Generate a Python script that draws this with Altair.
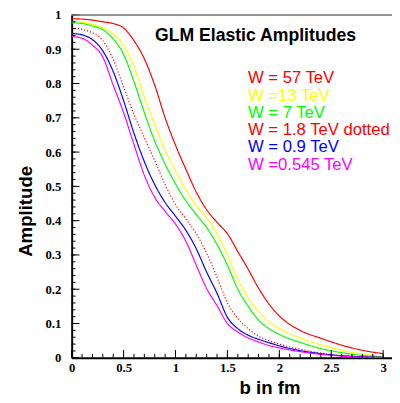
import altair as alt
import pandas as pd

# impact parameter b (fm)
b_vals = [0.0, 0.1, 0.2, 0.3, 0.4, 0.5, 0.6, 0.7, 0.8, 0.9, 1.0, 1.1, 1.2, 1.3, 1.4,
          1.5, 1.6, 1.7, 1.8, 1.9, 2.0, 2.2, 2.4, 2.6, 2.8, 3.0]

amp_57 = [0.989, 0.988, 0.985, 0.980, 0.975, 0.962, 0.925, 0.872, 0.795, 0.700, 0.620,
          0.550, 0.483, 0.432, 0.395, 0.362, 0.310, 0.258, 0.203, 0.157, 0.122, 0.080,
          0.057, 0.037, 0.022, 0.012]
amp_13 = [0.981, 0.979, 0.973, 0.963, 0.945, 0.910, 0.850, 0.760, 0.680, 0.605, 0.545,
          0.490, 0.443, 0.408, 0.362, 0.300, 0.230, 0.175, 0.135, 0.105, 0.085, 0.058,
          0.038, 0.022, 0.011, 0.004]
amp_7 = [0.977, 0.975, 0.968, 0.957, 0.930, 0.885, 0.805, 0.715, 0.632, 0.565, 0.507,
         0.458, 0.418, 0.380, 0.330, 0.270, 0.200, 0.150, 0.110, 0.085, 0.068, 0.045,
         0.027, 0.015, 0.007, 0.003]
amp_18 = [0.962, 0.958, 0.948, 0.925, 0.870, 0.790, 0.710, 0.642, 0.575, 0.505, 0.447,
          0.405, 0.362, 0.305, 0.235, 0.160, 0.115, 0.085, 0.063, 0.050, 0.040, 0.025,
          0.014, 0.007, 0.003, 0.001]
amp_09 = [0.946, 0.942, 0.928, 0.895, 0.835, 0.750, 0.655, 0.572, 0.505, 0.453, 0.413,
          0.372, 0.318, 0.250, 0.188, 0.118, 0.085, 0.066, 0.054, 0.044, 0.035, 0.021,
          0.012, 0.006, 0.003, 0.001]
amp_0545 = [0.937, 0.932, 0.912, 0.877, 0.795, 0.715, 0.622, 0.532, 0.468, 0.427, 0.390,
            0.340, 0.270, 0.202, 0.152, 0.100, 0.075, 0.058, 0.046, 0.036, 0.029, 0.018,
            0.010, 0.005, 0.002, 0.001]

legend_labels = ["W = 57 TeV", "W =13 TeV", "W = 7 TeV", "W = 1.8 TeV dotted",
                 "W = 0.9 TeV", "W =0.545 TeV"]
series_colors = ["#ff0000", "#ffff00", "#00ff00", "#ff0000", "#0000ff", "#ff00ff"]
series_values = [amp_57, amp_13, amp_7, amp_18, amp_09, amp_0545]
dotted_index = 3

x_tick_labels = [0, 0.5, 1, 1.5, 2, 2.5, 3]
y_tick_labels = [0, 0.1, 0.2, 0.3, 0.4, 0.5, 0.6, 0.7, 0.8, 0.9, 1]
x_minor = [round(i * 0.1, 2) for i in range(31)]
y_minor = [round(i * 0.02, 2) for i in range(51)]

W, H = 327, 350

rows = []
for i, (name, vals) in enumerate(zip(legend_labels, series_values)):
    for b, a in zip(b_vals, vals):
        rows.append({"b": b, "A": a, "series": name,
                     "style": "dotted" if i == dotted_index else "solid"})
df = pd.DataFrame(rows)

xscale = alt.Scale(domain=[0, 3.085], nice=False, zero=False)
yscale = alt.Scale(domain=[0, 1], nice=False, zero=False)

def x_enc(field):
    return alt.X(field, scale=xscale, title="b in fm",
                 axis=alt.Axis(values=x_tick_labels, format="~g"))

def y_enc(field):
    return alt.Y(field, scale=yscale, title="Amplitude",
                 axis=alt.Axis(values=y_tick_labels, format="~g"))

lines = alt.Chart(df).mark_line(strokeWidth=1.2, interpolate="monotone").encode(
    x=x_enc("b:Q"),
    y=y_enc("A:Q"),
    color=alt.Color("series:N", scale=alt.Scale(domain=legend_labels, range=series_colors),
                    legend=None),
    strokeDash=alt.StrokeDash("style:N", scale=alt.Scale(domain=["solid", "dotted"],
                                                        range=[[1, 0], [1.2, 2]]),
                              legend=None),
)

def xticks(vals, length):
    return alt.Chart(pd.DataFrame({"b": vals})).mark_rule(color="black", strokeWidth=1).encode(
        x=x_enc("b:Q"),
        y=alt.value(H), y2=alt.value(H - length))

def yticks(vals, length):
    return alt.Chart(pd.DataFrame({"A": vals})).mark_rule(color="black", strokeWidth=1).encode(
        y=y_enc("A:Q"),
        x=alt.value(0), x2=alt.value(length))

frame_top = alt.Chart(pd.DataFrame({"k": [0]})).mark_rule(color="#707070", strokeWidth=1.6).encode(
    x=alt.value(0), x2=alt.value(W), y=alt.value(0))

title = alt.Chart(pd.DataFrame({"t": ["GLM Elastic Amplitudes"]})).mark_text(
    font="Liberation Sans", fontSize=18, fontWeight="bold", color="black",
    align="left", baseline="alphabetic").encode(
    text="t:N", x=alt.value(85), y=alt.value(26.3))

legend_layers = []
for i, (lab, col) in enumerate(zip(legend_labels, series_colors)):
    legend_layers.append(
        alt.Chart(pd.DataFrame({"t": [lab]})).mark_text(
            font="Liberation Sans", fontSize=17, color=col,
            align="left", baseline="alphabetic").encode(
            text="t:N", x=alt.value(180), y=alt.value(69.7 + 17.65 * i)))

chart = alt.layer(
    lines,
    xticks(x_minor, 4), xticks(x_tick_labels, 8),
    yticks(y_minor, 4), yticks(y_tick_labels, 8),
    frame_top, title, *legend_layers,
).properties(
    width=W, height=H,
    autosize=alt.AutoSizeParams(type="none"),
    padding={"left": 65, "top": 3, "right": 0, "bottom": 40},
).configure_view(
    strokeWidth=0
).configure_axis(
    ticks=False, grid=False, domainColor="black", domainWidth=2,
    labelFont="Liberation Serif", labelFontWeight="bold", labelFontSize=13,
    labelColor="black", labelFlush=False, labelOverlap=False,
    titleFont="Liberation Sans", titleFontSize=19, titleFontWeight="bold",
    titleColor="black", titleBaseline="alphabetic", titleAlign="center",
).configure_axisX(
    labelPadding=4, titleX=202, titleY=36
).configure_axisY(
    labelPadding=11, titleX=-41, titleY=200, titleAngle=270
)

chart.save("out.html", embed_options={"renderer": "svg", "actions": False})
